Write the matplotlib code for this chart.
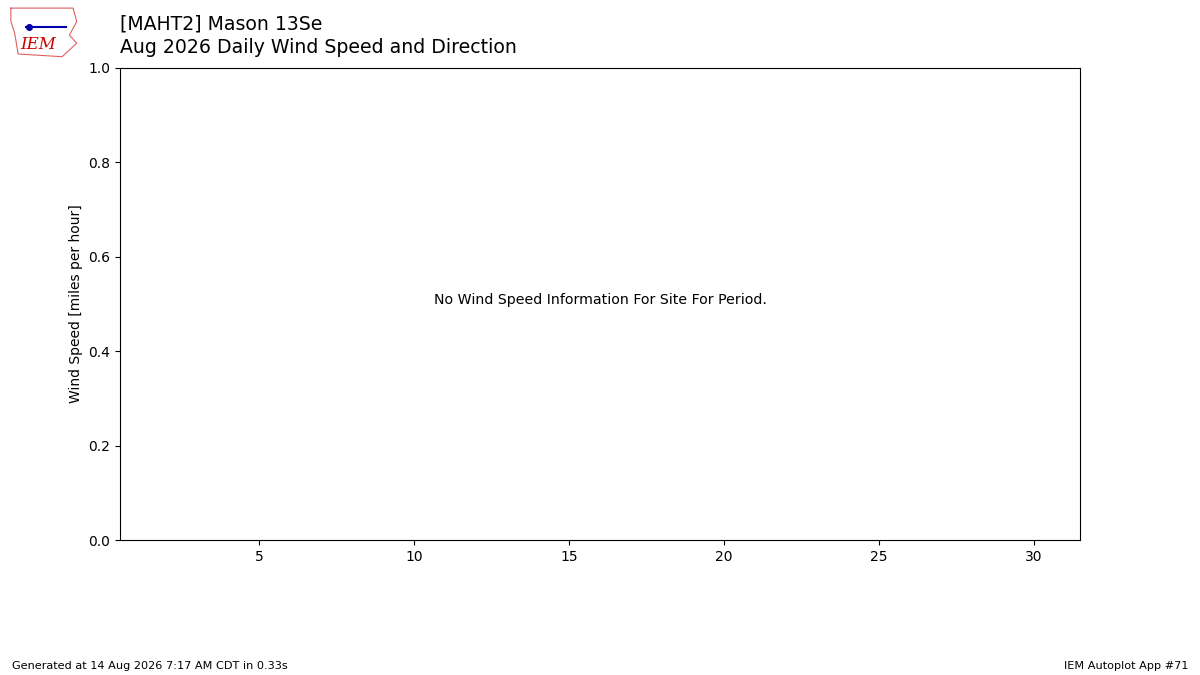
import matplotlib
matplotlib.use("Agg")
import matplotlib.pyplot as plt

station = "[MAHT2] Mason 13Se"
subtitle = "Aug 2026 Daily Wind Speed and Direction"
message = "No Wind Speed Information For Site For Period."
xticks = [5, 10, 15, 20, 25, 30]
yticks = [0.0, 0.2, 0.4, 0.6, 0.8, 1.0]
footer_left = "Generated at 14 Aug 2026 7:17 AM CDT in 0.33s"
footer_right = "IEM Autoplot App #71"

fig = plt.figure(figsize=(12, 6.75), dpi=100)
ax = fig.add_axes([0.1, 0.2, 0.8, 0.6993])
ax.set_xlim(0.5, 31.5)
ax.set_ylim(0, 1)
ax.set_xticks(xticks)
ax.set_yticks(yticks)
ax.set_ylabel("Wind Speed [miles per hour]")
ax.text(0.5, 0.4936, message, transform=ax.transAxes, ha="center",
        va="bottom", fontsize=10.2)

fig.text(0.1, 0.965, station, fontsize=13.6, va="center")
fig.text(0.1, 0.93, subtitle, fontsize=13.6, va="center")

# logo stand-in
logo = fig.add_axes([0.006, 0.912, 0.061, 0.08])
logo.set_xlim(0, 1)
logo.set_ylim(0, 1)
logo.axis("off")
logo.plot([0.05, 0.9, 0.95, 0.85, 0.95, 0.75, 0.15, 0.1, 0.05, 0.05],
          [0.95, 0.95, 0.7, 0.45, 0.3, 0.05, 0.1, 0.5, 0.7, 0.95],
          color="#e06060", lw=0.8)
logo.plot([0.25, 0.8], [0.6, 0.6], color="#0000aa", lw=1.5)
logo.plot([0.3], [0.6], "o", color="#0000aa", ms=4)
logo.text(0.42, 0.2, "IEM", color="#cc0000", fontsize=12, family="serif",
          style="italic", ha="center")

fig.text(0.01, 0.009, footer_left, fontsize=8.15)
fig.text(0.99, 0.009, footer_right, fontsize=8.15, ha="right")

fig.savefig("out.png")
